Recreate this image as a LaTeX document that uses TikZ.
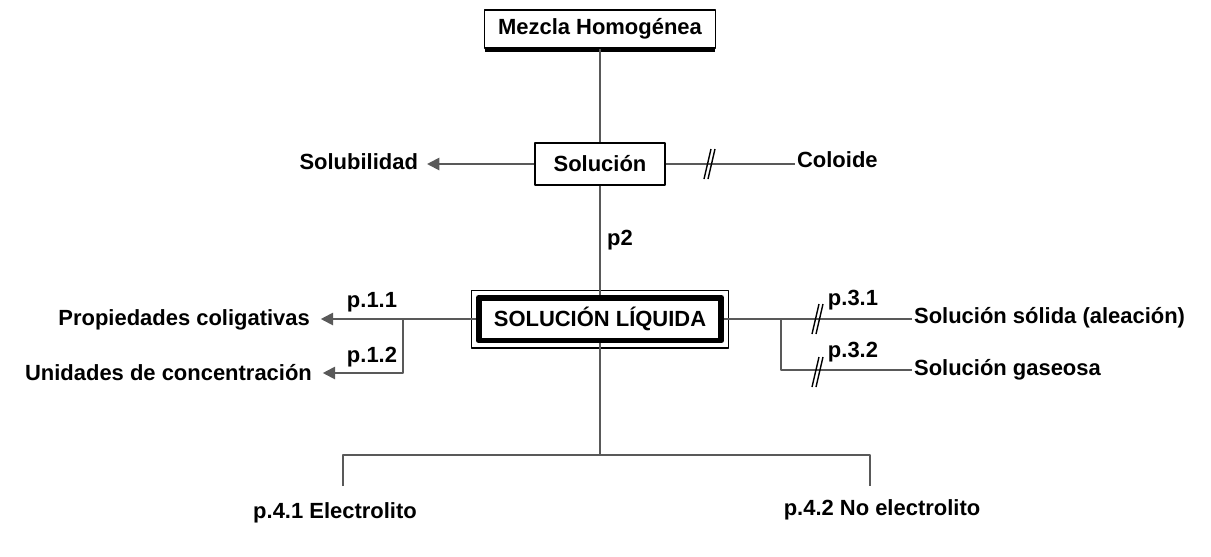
\documentclass[tikz,border=0pt]{standalone}
\usepackage{fontspec}
\setmainfont{Liberation Sans}
\usetikzlibrary{arrows.meta}
\begin{document}
\begin{tikzpicture}[x=.02cm, y=-.02cm, font=\fontsize{12.5}{14}\selectfont\bfseries,
	line join=round, >={Triangle[length=7pt,width=7pt]},
	con/.style={draw=black!65, line width=1.1pt},
	caja/.style={draw=black, line width=.8pt, inner sep=0pt},
	txt/.style={inner sep=1pt},
	corte/.style={draw=black, line width=.8pt}]
	\useasboundingbox (0,0) rectangle (1211,556);
	% cajas
	\node[caja, minimum width=4.62cm, minimum height=.76cm] (mezcla) at (600,29) {Mezcla Homogénea};
	\draw[black, line width=1.4pt] (mezcla.south west)++(1,2) -- ([shift={(-1,2)}]mezcla.south east);
	\node[caja, minimum width=2.6cm, minimum height=.84cm] (sol) at (600,164) {Solución};
	\node[caja, line width=3.4pt, minimum width=4.86cm, minimum height=.86cm] (liq) at (600,319) {SOLUCIÓN LÍQUIDA};
	\draw[black, line width=.6pt] ([shift={(-4.5,-4.5)}]liq.north west) rectangle ([shift={(4.5,4.5)}]liq.south east);
	% textos
	\node[txt, anchor=east] (solub) at (420,162) {Solubilidad};
	\node[txt, anchor=west] (coloide) at (795,160) {Coloide};
	\node[txt, anchor=east] (prop) at (312,320) {Propiedades coligativas};
	\node[txt, anchor=east] (unid) at (314,373) {Unidades de concentración};
	\node[txt, anchor=west] (solida) at (912,318) {Solución sólida (aleación)};
	\node[txt, anchor=west] (gas) at (912,370) {Solución gaseosa};
	\node[txt] (elec) at (335,513) {p.4.1 Electrolito};
	\node[txt] (noelec) at (882,510) {p.4.2 No electrolito};
	\path
	(620,240) node[txt] (p2) {p2}
	(372,302) node[txt] (p11) {p.1.1}
	(372,357) node[txt] (p12) {p.1.2}
	(853,300) node[txt] (p31) {p.3.1}
	(853,352) node[txt] (p32) {p.3.2};
	% puntos de union
	\path
	(403,319) coordinate (b1)
	(781,319) coordinate (b3)
	(600,455) coordinate (j)
	(343,486) coordinate (e1)
	(870,486) coordinate (e2)
	(710,164) coordinate (c1)
	(818,319) coordinate (c2)
	(818,372) coordinate (c3);
	% conectores
	\draw[con] (mezcla.south)--(sol.north)
	(sol.south)--(liq.north)
	(sol.east)--(sol.east-|coloide.west)
	(liq.east)--(liq.east-|solida.west)
	(b3)|-(gas.west)
	(liq.south)--(j)
	(e1)|-(j)-|(e2);
	\draw[con,->,shorten >=4pt] (sol.west)--(sol.west-|solub.east);
	\draw[con,->,shorten >=5pt] (liq.west)--(liq.west-|prop.east);
	\draw[con,->,shorten >=5pt] (b1)|-(unid.east);
	\foreach \c in {c1,c2,c3}\draw[corte] ([shift={(-6,15)}]\c)--++(7,-30) ([shift={(-2,15)}]\c)--++(7,-30);
\end{tikzpicture}
\end{document}
